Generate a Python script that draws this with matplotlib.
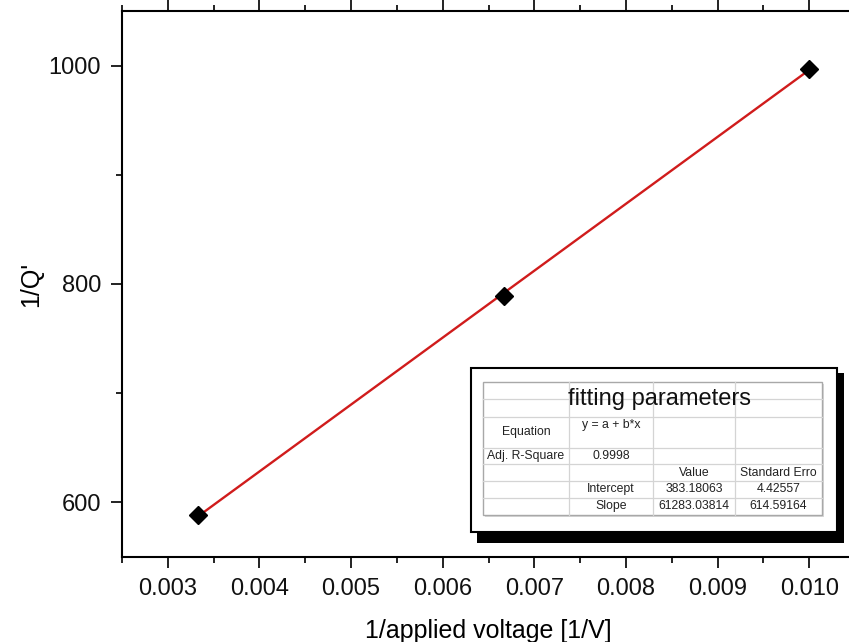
import matplotlib
matplotlib.use("Agg")
import matplotlib.pyplot as plt
from matplotlib.patches import Rectangle
from matplotlib.lines import Line2D
from matplotlib.ticker import FixedLocator, MultipleLocator

# measured points: reciprocal applied voltage vs reciprocal Q'
inv_voltage = [1 / 300, 1 / 150, 1 / 100]
inv_q = [588.64, 789.36, 997.19]

# linear fit y = a + b*x
fit_intercept = 383.18063
fit_slope = 61283.03814

x_ticks = [0.003, 0.004, 0.005, 0.006, 0.007, 0.008, 0.009, 0.010]
x_tick_labels = ["0.003", "0.004", "0.005", "0.006", "0.007", "0.008", "0.009", "0.010"]
y_ticks = [600, 800, 1000]
y_tick_labels = ["600", "800", "1000"]

table_title = "fitting parameters"
table_rows = [
    ["Equation", "y = a + b*x", "", ""],
    ["Adj. R-Square", "0.9998", "", ""],
    ["", "", "Value", "Standard Erro"],
    ["", "Intercept", "383.18063", "4.42557"],
    ["", "Slope", "61283.03814", "614.59164"],
]

plt.rcParams["font.family"] = ["Liberation Sans", "DejaVu Sans"]

W, H = 849, 642
fig = plt.figure(figsize=(W / 100, H / 100), dpi=100)
ax = fig.add_axes([122 / W, 85 / H, 733 / W, 546 / H])

# fit line spans the measured range
xs = [min(inv_voltage), max(inv_voltage)]
ax.plot(xs, [fit_intercept + fit_slope * v for v in xs], color="#d01c1c",
        lw=1.7, zorder=2)
ax.plot(inv_voltage, inv_q, linestyle="none", marker="D", markersize=9.5,
        color="black", zorder=3)

ax.set_xlim(0.0025, 0.0105)
ax.set_ylim(550, 1050)
ax.xaxis.set_major_locator(FixedLocator(x_ticks))
ax.set_xticks(x_ticks, x_tick_labels)
ax.xaxis.set_minor_locator(MultipleLocator(0.0005))
ax.set_yticks(y_ticks, y_tick_labels)
ax.yaxis.set_minor_locator(MultipleLocator(100))

ax.spines["right"].set_visible(False)
for s in ("left", "bottom", "top"):
    ax.spines[s].set_linewidth(1.5)
ax.tick_params(which="both", direction="out", width=1.3, top=True,
               labeltop=False, right=False, labelsize=17, colors="#111111")
ax.tick_params(which="major", length=8, pad=7)
ax.tick_params(which="minor", length=4)

ax.set_xlabel("1/applied voltage [1/V]", fontsize=18, labelpad=14)
ax.set_ylabel("1/Q'", fontsize=18, labelpad=4)


def fx(px):
    return px / W


def fy(py):
    return 1 - py / H


# framed box with drop shadow
fig.patches.append(Rectangle((fx(477), fy(543)), fx(844) - fx(477),
                             fy(373) - fy(543), transform=fig.transFigure,
                             facecolor="black", edgecolor="none", zorder=5))
fig.patches.append(Rectangle((fx(471), fy(532)), fx(837) - fx(471),
                             fy(368) - fy(532), transform=fig.transFigure,
                             facecolor="white", edgecolor="black", lw=1.5,
                             zorder=6))
# light shadow under the table
fig.patches.append(Rectangle((fx(485), fy(517)), fx(824) - fx(485),
                             fy(384) - fy(517), transform=fig.transFigure,
                             facecolor="#d8d8d8", edgecolor="none", zorder=6.5))

col_edges = [483, 569, 653, 735, 822]
row_edges = [381.7, 399.3, 416.7, 448.3, 464.3, 481, 497.7, 515]
fig.patches.append(Rectangle((fx(col_edges[0]), fy(row_edges[-1])),
                             fx(col_edges[-1]) - fx(col_edges[0]),
                             fy(row_edges[0]) - fy(row_edges[-1]),
                             transform=fig.transFigure, facecolor="white",
                             edgecolor="#a8a8a8", lw=1.0, zorder=7))
for cx in col_edges[1:-1]:
    fig.lines.append(Line2D([fx(cx), fx(cx)], [fy(row_edges[0]), fy(row_edges[-1])],
                            transform=fig.transFigure, color="#d4d4d4", lw=0.9,
                            zorder=7.5))
for ry in row_edges[1:-1]:
    fig.lines.append(Line2D([fx(col_edges[0]), fx(col_edges[-1])], [fy(ry), fy(ry)],
                            transform=fig.transFigure, color="#d4d4d4", lw=0.9,
                            zorder=7.5))

fig.text(fx(660), fy(399), table_title, fontsize=17, ha="center", va="center",
         color="#111111", zorder=8)

row_centers = [432.5, 456.3, 472.6, 489.3, 506.3]
col_centers = [(a + b) / 2 for a, b in zip(col_edges[:-1], col_edges[1:])]
for r, row in enumerate(table_rows):
    for c, txt in enumerate(row):
        if not txt:
            continue
        yy = row_centers[r]
        if r == 0 and c == 1:
            yy = 425
        fig.text(fx(col_centers[c]), fy(yy), txt, fontsize=8.8, ha="center",
                 va="center", color="#222222", zorder=8)

fig.savefig("out.png", dpi=100)
